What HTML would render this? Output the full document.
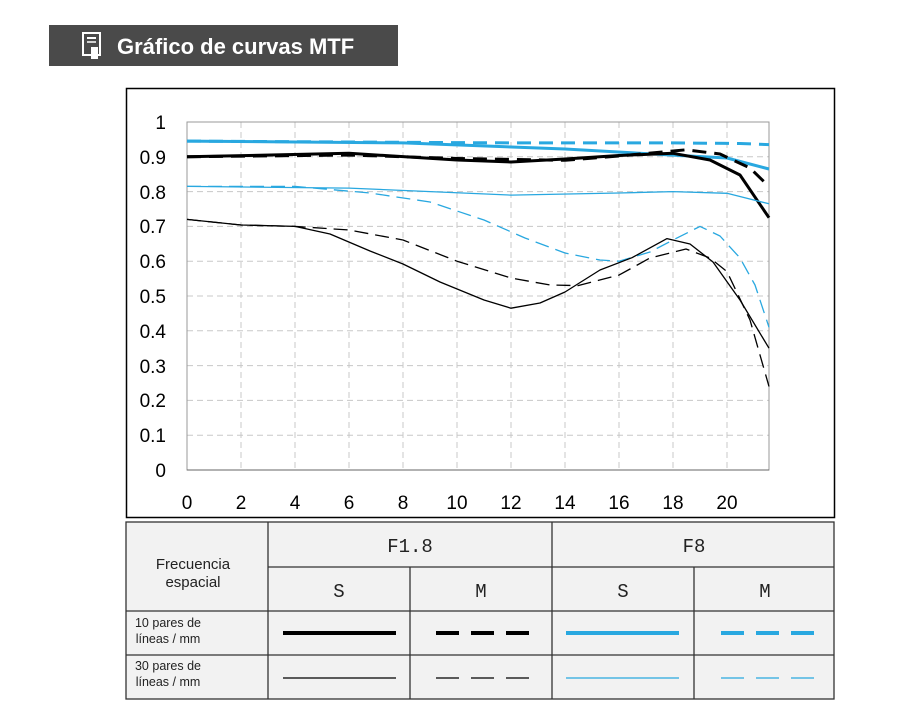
<!DOCTYPE html>
<html><head><meta charset="utf-8"><style>
body{margin:0;background:#fff;width:911px;height:728px;overflow:hidden;font-family:"Liberation Sans",sans-serif}
</style></head><body>
<svg width="911" height="728" xmlns="http://www.w3.org/2000/svg" style="position:absolute;left:0;top:0">
<rect x="49" y="25" width="349" height="41" fill="#4a4a4a"/>
<rect x="83" y="33" width="17" height="22" fill="none" stroke="#fff" stroke-width="2"/>
<line x1="87" y1="38" x2="96" y2="38" stroke="#fff" stroke-width="2"/>
<line x1="87" y1="42" x2="96" y2="42" stroke="#fff" stroke-width="1.5"/>
<rect x="91" y="47" width="7" height="12" fill="#fff"/>
<text x="117" y="54" fill="#fff" font-size="22" font-weight="bold" font-family="Liberation Sans, DejaVu Sans, sans-serif">Gráfico de curvas MTF</text>
<rect x="126.5" y="88.5" width="708" height="429" fill="#fff" stroke="#000" stroke-width="1.5"/>
<g stroke="#c8c8c8" stroke-dasharray="6,4" stroke-width="1">
<line x1="187" y1="122" x2="769" y2="122"/><line x1="187" y1="156.8" x2="769" y2="156.8"/><line x1="187" y1="191.6" x2="769" y2="191.6"/><line x1="187" y1="226.4" x2="769" y2="226.4"/><line x1="187" y1="261.2" x2="769" y2="261.2"/><line x1="187" y1="296" x2="769" y2="296"/><line x1="187" y1="330.8" x2="769" y2="330.8"/><line x1="187" y1="365.6" x2="769" y2="365.6"/><line x1="187" y1="400.4" x2="769" y2="400.4"/><line x1="187" y1="435.2" x2="769" y2="435.2"/>
<line x1="241" y1="122" x2="241" y2="470"/><line x1="295" y1="122" x2="295" y2="470"/><line x1="349" y1="122" x2="349" y2="470"/><line x1="403" y1="122" x2="403" y2="470"/><line x1="457" y1="122" x2="457" y2="470"/><line x1="511" y1="122" x2="511" y2="470"/><line x1="565" y1="122" x2="565" y2="470"/><line x1="619" y1="122" x2="619" y2="470"/><line x1="673" y1="122" x2="673" y2="470"/><line x1="727" y1="122" x2="727" y2="470"/>
</g>
<rect x="187" y="122" width="582" height="348" fill="none" stroke="#999" stroke-width="1"/>
<line x1="187" y1="470" x2="769" y2="470" stroke="#666"/>
<g font-size="19" fill="#000" text-anchor="end">
<text x="166" y="129">1</text><text x="166" y="164">0.9</text><text x="166" y="199">0.8</text><text x="166" y="233">0.7</text><text x="166" y="268">0.6</text><text x="166" y="303">0.5</text><text x="166" y="338">0.4</text><text x="166" y="373">0.3</text><text x="166" y="407">0.2</text><text x="166" y="442">0.1</text><text x="166" y="477">0</text>
</g>
<g font-size="19" fill="#000" text-anchor="middle">
<text x="187" y="509">0</text><text x="241" y="509">2</text><text x="295" y="509">4</text><text x="349" y="509">6</text><text x="403" y="509">8</text><text x="457" y="509">10</text><text x="511" y="509">12</text><text x="565" y="509">14</text><text x="619" y="509">16</text><text x="673" y="509">18</text><text x="727" y="509">20</text>
</g>
<g fill="none" stroke-linejoin="round">
<polyline stroke="#29a8e0" stroke-width="3" points="187,141.1 403,142.9 565,149 673,155.1 727,158 769,169"/>
<polyline stroke="#29a8e0" stroke-width="3" stroke-dasharray="14,8" points="187,141.1 511,142.9 673,142.9 740,143.5 769,144.6"/>
<polyline stroke="#000" stroke-width="3" points="187,156.8 349,153.3 457,160 511,162 565,159 619,155.5 673,153.3 710,160 740,175 769,217.7"/>
<polyline stroke="#000" stroke-width="3" stroke-dasharray="14,8" points="187,156.8 349,155 457,158.5 565,160.3 619,156 686,149.8 720,154 750,168 767,184.6"/>
<polyline stroke="#29a8e0" stroke-width="1.3" points="187,186.4 349,188.1 511,195.1 619,193 673,191.6 727,193.3 769,203.8"/>
<polyline stroke="#29a8e0" stroke-width="1.3" stroke-dasharray="14,7" points="187,186.4 295,186.4 370,193 430,202 484,220 525,238 565,253 600,260 619,261.2 650,252 673,240 700,226.4 720,236 740,258 755,285 769,327.3"/>
<polyline stroke="#000" stroke-width="1.3" points="187,219.4 241,225 295,226.4 330,234 370,251 403,264 440,282 484,300 511,308.2 540,303 565,292 600,270 632,257.7 667,238.6 690,244 713,262 740,300 769,348.2"/>
<polyline stroke="#000" stroke-width="1.3" stroke-dasharray="14,7" points="187,219.4 241,225 295,226.4 349,230 403,240 457,261.2 511,278 550,285 578,285.6 619,275.1 650,258 686,249 710,258 727,271.6 750,320 769,386.5"/>
</g>
<g stroke="#333" stroke-width="1.3">
<rect x="126" y="522" width="708" height="177" fill="#f2f2f2"/>
<line x1="268" y1="522" x2="268" y2="699"/><line x1="552" y1="522" x2="552" y2="699"/>
<line x1="410" y1="567" x2="410" y2="699"/><line x1="694" y1="567" x2="694" y2="699"/>
<line x1="268" y1="567" x2="834" y2="567"/><line x1="126" y1="611" x2="834" y2="611"/><line x1="126" y1="655" x2="834" y2="655"/>
</g>
<g font-family="Liberation Mono, monospace" font-size="19" text-anchor="middle" fill="#222">
<text x="410" y="552">F1.8</text><text x="694" y="552">F8</text>
<text x="339" y="597">S</text><text x="481" y="597">M</text><text x="623" y="597">S</text><text x="765" y="597">M</text>
</g>
<g font-size="15" fill="#222" text-anchor="middle"><text x="193" y="569">Frecuencia</text><text x="193" y="587">espacial</text></g>
<g font-size="12.5" fill="#222" text-anchor="middle"><text x="168" y="627">10 pares de</text><text x="168" y="643">líneas / mm</text><text x="168" y="670">30 pares de</text><text x="168" y="686">líneas / mm</text></g>
<g>
<line x1="283" y1="633" x2="396" y2="633" stroke="#000" stroke-width="4"/>
<line x1="436" y1="633" x2="529" y2="633" stroke="#000" stroke-width="4" stroke-dasharray="23,12"/>
<line x1="566" y1="633" x2="679" y2="633" stroke="#29a8e0" stroke-width="4"/>
<line x1="721" y1="633" x2="814" y2="633" stroke="#29a8e0" stroke-width="4" stroke-dasharray="23,12"/>
<line x1="283" y1="678" x2="396" y2="678" stroke="#000" stroke-width="1.2"/>
<line x1="436" y1="678" x2="529" y2="678" stroke="#000" stroke-width="1.2" stroke-dasharray="23,12"/>
<line x1="566" y1="678" x2="679" y2="678" stroke="#29a8e0" stroke-width="1.2"/>
<line x1="721" y1="678" x2="814" y2="678" stroke="#29a8e0" stroke-width="1.2" stroke-dasharray="23,12"/>
</g>
</svg>
</body></html>
